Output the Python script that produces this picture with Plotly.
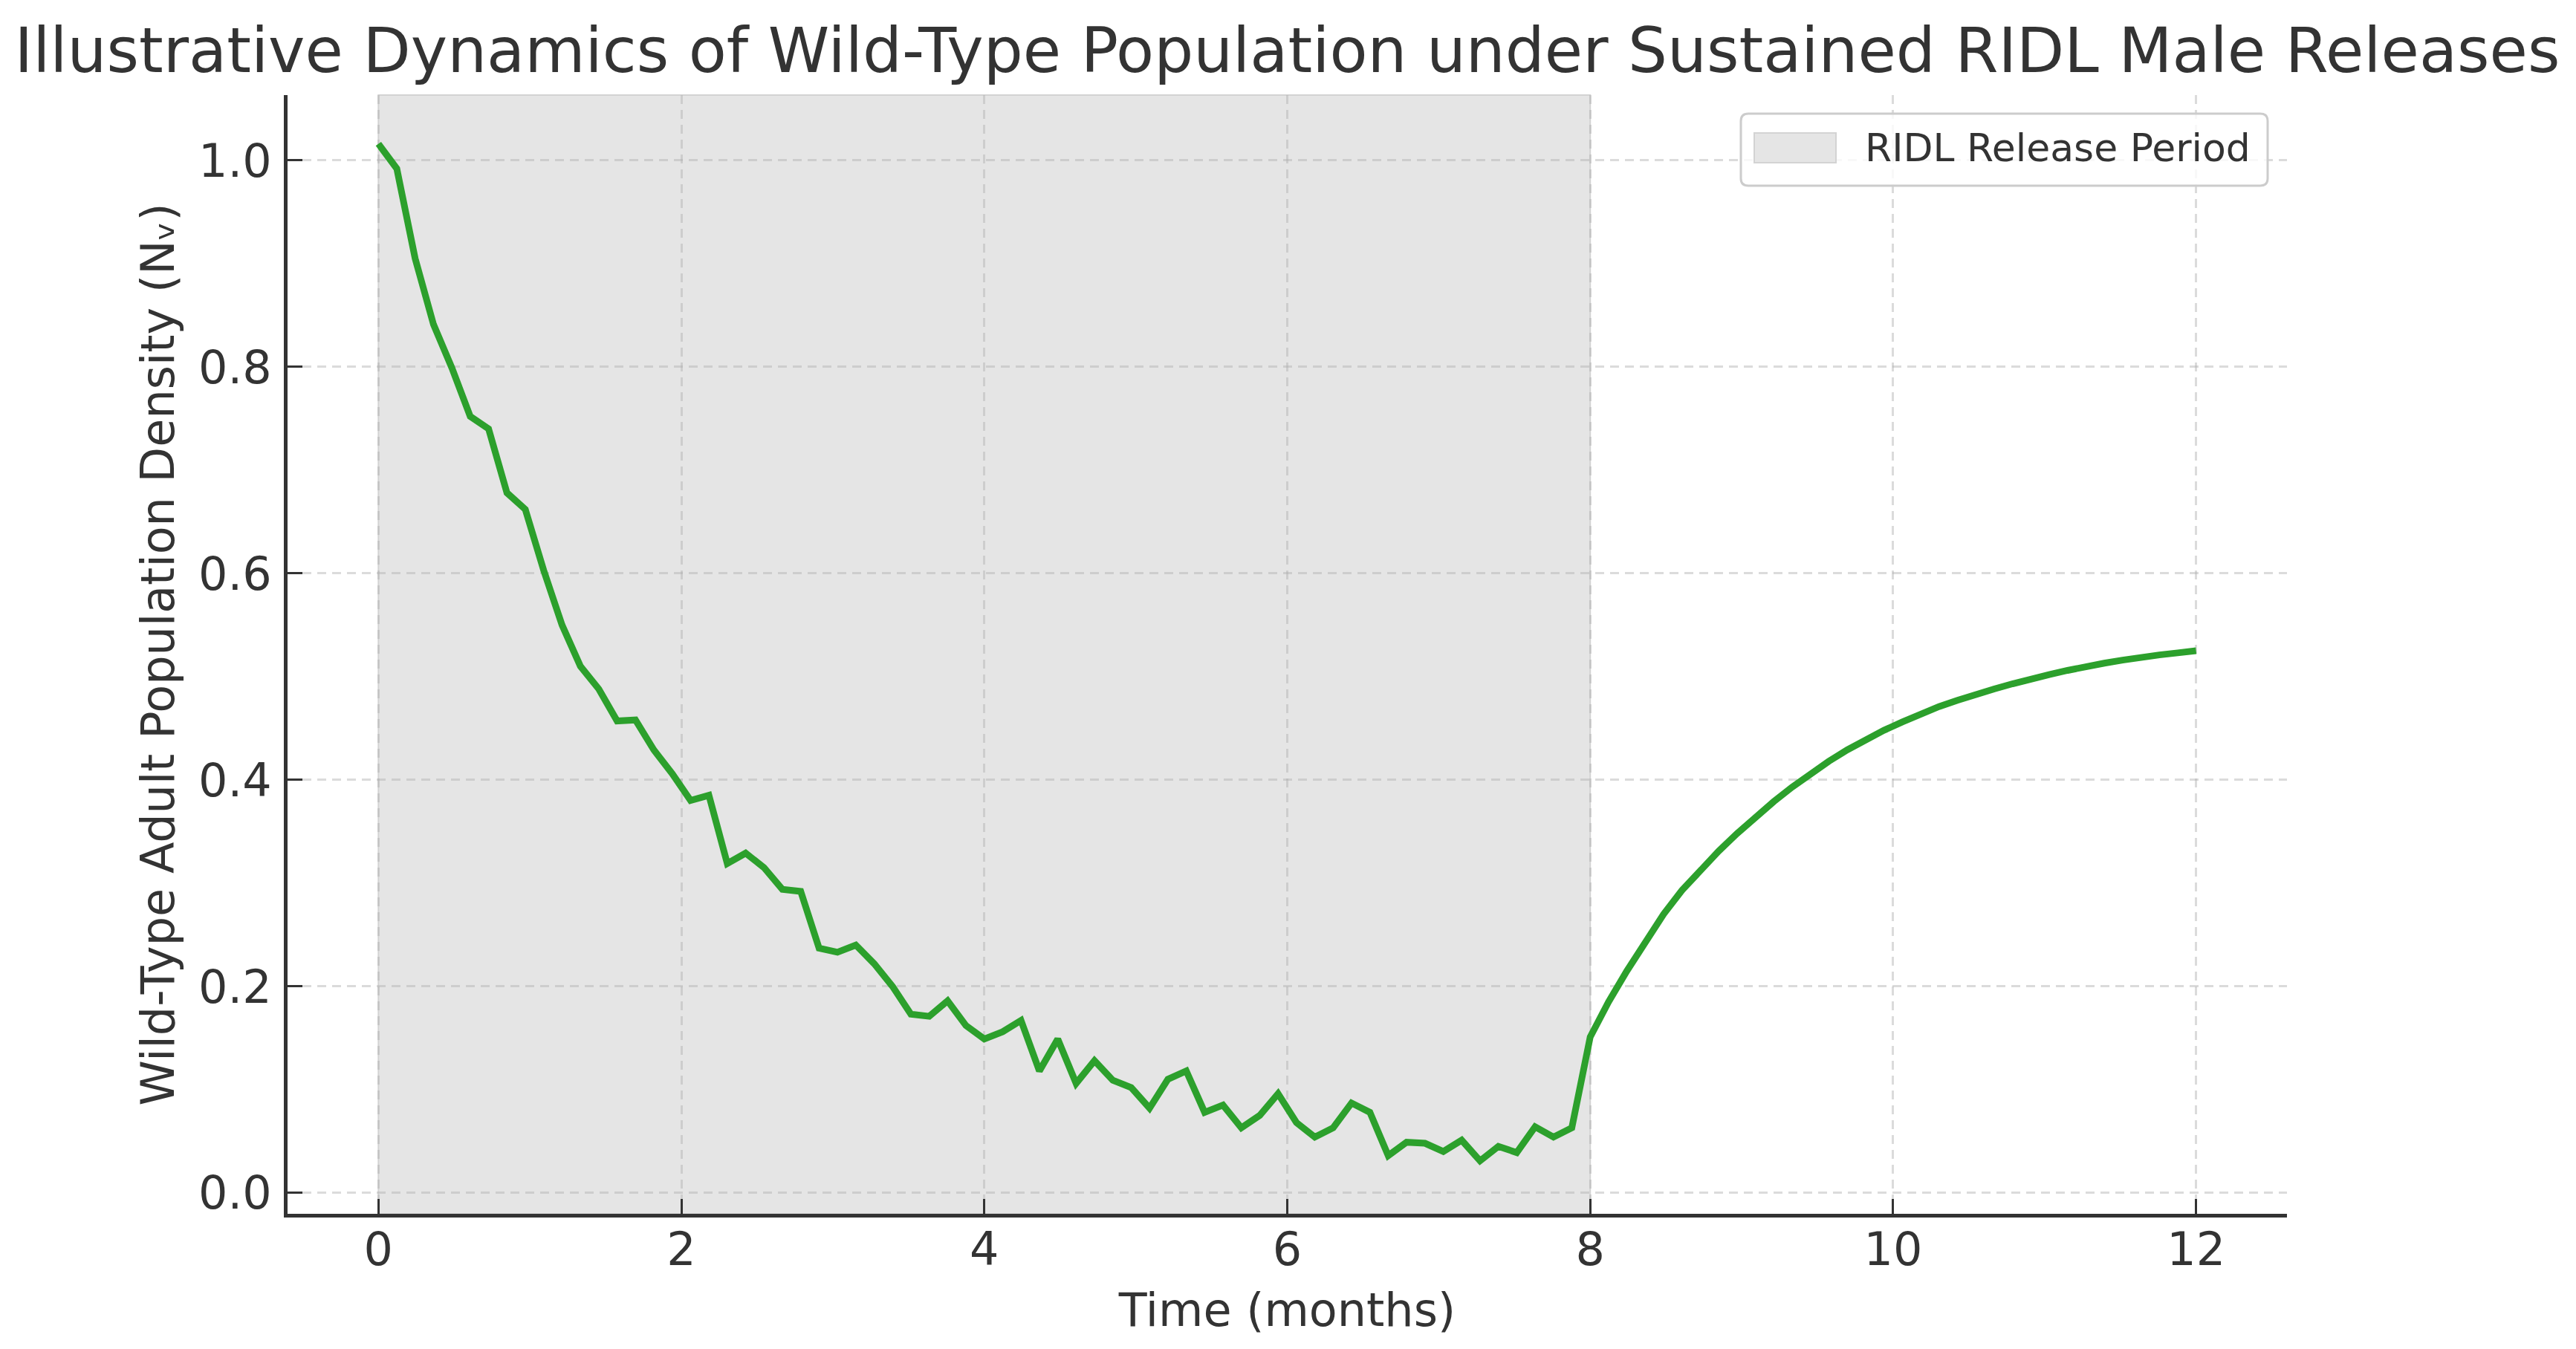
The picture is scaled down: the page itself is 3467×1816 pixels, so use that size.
import numpy as np
import plotly.graph_objects as go

# ---------------- data ----------------
TIME_MONTHS = np.linspace(0, 12, 100)  # 100 evenly spaced samples over 12 months

POP_DENSITY = [
    1.016, 0.992, 0.905, 0.841, 0.799, 0.752, 0.740, 0.678, 0.662, 0.603,
    0.550, 0.510, 0.488, 0.457, 0.458, 0.429, 0.406, 0.380, 0.385, 0.319,
    0.329, 0.315, 0.294, 0.292, 0.237, 0.233, 0.240, 0.222, 0.200, 0.173,
    0.171, 0.186, 0.162, 0.149, 0.156, 0.167, 0.118, 0.149, 0.106, 0.128,
    0.109, 0.102, 0.082, 0.110, 0.118, 0.078, 0.085, 0.063, 0.075, 0.096,
    0.068, 0.054, 0.063, 0.087, 0.078, 0.036, 0.049, 0.048, 0.040, 0.051,
    0.031, 0.045, 0.039, 0.064, 0.054, 0.063, 0.151, 0.185, 0.215, 0.244,
    0.270, 0.293, 0.313, 0.331, 0.348, 0.364, 0.379, 0.393, 0.406, 0.418,
    0.429, 0.439, 0.448, 0.456, 0.464, 0.471, 0.477, 0.483, 0.488, 0.493,
    0.498, 0.502, 0.506, 0.510, 0.513, 0.516, 0.519, 0.521, 0.523, 0.525,
]

RELEASE_START = 0
RELEASE_END = 8
LEGEND_LABEL = "RIDL Release Period"

X_TICKS = [0, 2, 4, 6, 8, 10, 12]
Y_TICKS = [0.0, 0.2, 0.4, 0.6, 0.8, 1.0]
Y_TICK_LABELS = ["0.0", "0.2", "0.4", "0.6", "0.8", "1.0"]

TITLE = "Illustrative Dynamics of Wild-Type Population under Sustained RIDL Male Releases"
X_LABEL = "Time (months)"
Y_LABEL = "Wild-Type Adult Population Density (N\u1d65)"

# ---------------- styling ----------------
W, H = 3467, 1816
ML, MR, MT, MB = 387, 389, 128, 182
PW, PH = W - ML - MR, H - MT - MB
FONT = "DejaVu Sans"
TXT = "#333333"
GREEN = "#2ca02c"
SPAN_FILL = "#e5e5e5"
SPAN_EDGE = "#d3d3d3"
GRID = "rgba(176,176,176,0.45)"


def px_x(px):
    return (px - ML) / PW


def px_y(py):
    return (H - MB - py) / PH


fig = go.Figure()

fig.add_trace(
    go.Scatter(
        x=TIME_MONTHS,
        y=POP_DENSITY,
        mode="lines",
        line=dict(color=GREEN, width=9),
        showlegend=False,
        hoverinfo="skip",
    )
)

shapes = [
    # release period span
    dict(
        type="rect",
        xref="x",
        yref="y domain",
        x0=RELEASE_START,
        x1=RELEASE_END,
        y0=0,
        y1=1,
        fillcolor=SPAN_FILL,
        line=dict(color=SPAN_EDGE, width=2),
        layer="below",
    ),
]

# manual legend (box, swatch) in paper coordinates
lx0, lx1, ly0, ly1 = 2343, 3052, 153, 250
r = 10
bw, bh = lx1 - lx0, ly1 - ly0
legend_path = (
    f"M {r},0 L {bw - r},0 Q {bw},0 {bw},{-r} L {bw},{-(bh - r)} "
    f"Q {bw},{-bh} {bw - r},{-bh} L {r},{-bh} Q 0,{-bh} 0,{-(bh - r)} "
    f"L 0,{-r} Q 0,0 {r},0 Z"
)
shapes.append(
    dict(
        type="path",
        xref="paper",
        yref="paper",
        xsizemode="pixel",
        ysizemode="pixel",
        xanchor=px_x(lx0),
        yanchor=px_y(ly0),
        path=legend_path,
        fillcolor="rgba(255,255,255,0.8)",
        line=dict(color="#cccccc", width=3),
        layer="above",
    )
)
shapes.append(
    dict(
        type="rect",
        xref="paper",
        yref="paper",
        x0=px_x(2361),
        x1=px_x(2471),
        y0=px_y(219),
        y1=px_y(179),
        fillcolor=SPAN_FILL,
        line=dict(color=SPAN_EDGE, width=2),
        layer="above",
    )
)

annotations = [
    dict(
        text=LEGEND_LABEL,
        xref="paper",
        yref="paper",
        x=px_x(2508),
        y=px_y(199),
        xanchor="left",
        yanchor="middle",
        showarrow=False,
        font=dict(family=FONT, size=52, color=TXT),
    )
]

fig.update_layout(
    width=W,
    height=H,
    margin=dict(l=ML, r=MR, t=MT, b=MB, pad=0),
    paper_bgcolor="white",
    plot_bgcolor="white",
    font=dict(family=FONT, color=TXT),
    title=dict(
        text=TITLE,
        x=0.5,
        xref="paper",
        xanchor="center",
        y=1 - 68 / H,
        yref="container",
        yanchor="middle",
        font=dict(family=FONT, size=83.5, color=TXT),
    ),
    shapes=shapes,
    annotations=annotations,
    showlegend=False,
    hovermode=False,
)

fig.update_xaxes(
    range=[-0.6, 12.6],
    tickmode="array",
    tickvals=X_TICKS,
    ticktext=[str(v) for v in X_TICKS],
    ticks="inside",
    ticklen=20,
    tickwidth=3,
    tickcolor=TXT,
    tickfont=dict(family=FONT, size=62, color=TXT),
    ticklabelstandoff=-10,
    showline=True,
    linewidth=5,
    linecolor=TXT,
    mirror=False,
    showgrid=True,
    gridcolor=GRID,
    gridwidth=3,
    griddash="12px,8px",
    zeroline=False,
    title=dict(text=X_LABEL, font=dict(family=FONT, size=62, color=TXT), standoff=26),
    automargin=False,
)

fig.update_yaxes(
    range=[-0.0203, 1.0632],
    tickmode="array",
    tickvals=Y_TICKS,
    ticktext=Y_TICK_LABELS,
    ticks="inside",
    ticklen=20,
    tickwidth=3,
    tickcolor=TXT,
    tickfont=dict(family=FONT, size=62, color=TXT),
    ticklabelstandoff=4,
    showline=True,
    linewidth=5,
    linecolor=TXT,
    mirror=False,
    showgrid=True,
    gridcolor=GRID,
    gridwidth=3,
    griddash="12px,8px",
    zeroline=False,
    title=dict(text=Y_LABEL, font=dict(family=FONT, size=62, color=TXT), standoff=14),
    automargin=False,
)

fig.write_html(
    "out.html",
    config={"displayModeBar": False},
    post_script="document.body.style.margin='0';document.body.style.overflow='hidden';",
)
